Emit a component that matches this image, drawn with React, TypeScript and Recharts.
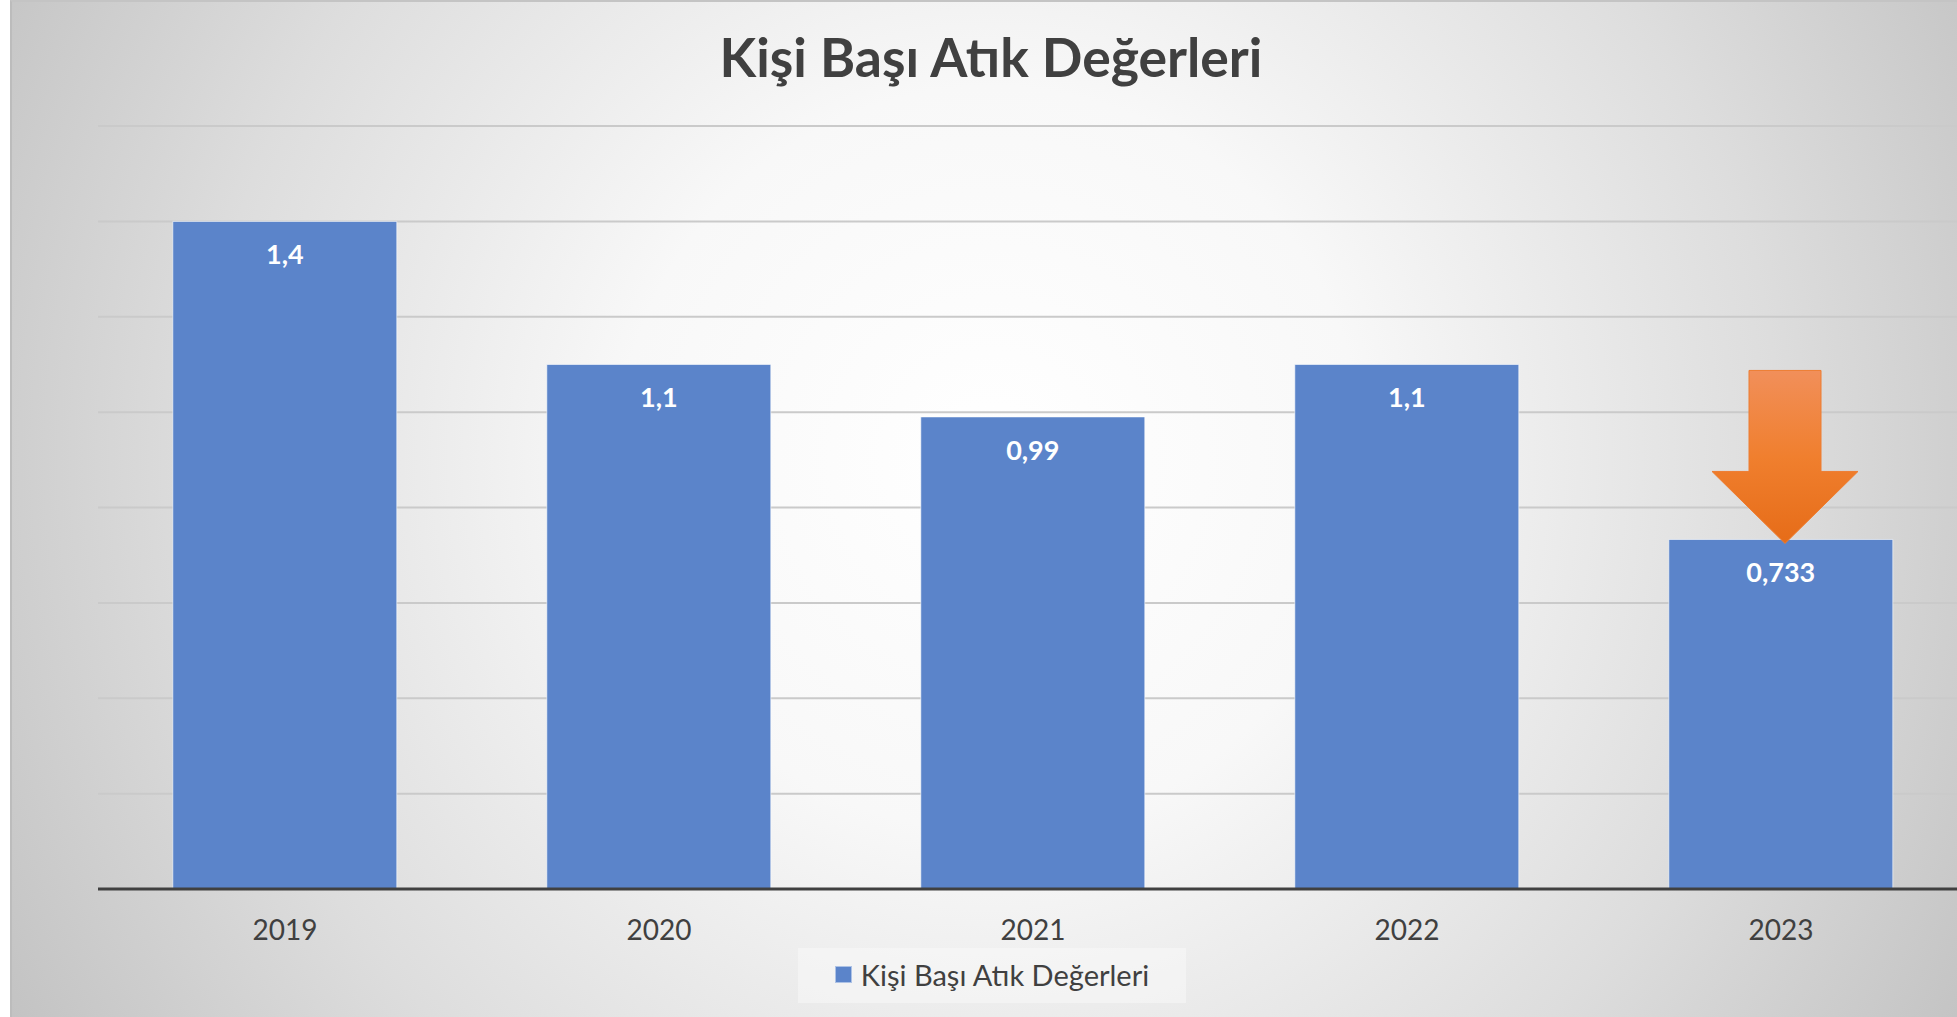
import React from 'react';
import { BarChart, Bar, XAxis, YAxis, CartesianGrid, LabelList, ReferenceDot, Legend } from 'recharts';

const title = 'Kişi Başı Atık Değerleri';
const seriesName = 'Kişi Başı Atık Değerleri';
const categories = ['2019', '2020', '2021', '2022', '2023'];
const values = [1.4, 1.1, 0.99, 1.1, 0.733];
const valueLabels = ['1,4', '1,1', '0,99', '1,1', '0,733'];
const yTicks = [0, 0.2, 0.4, 0.6, 0.8, 1.0, 1.2, 1.4, 1.6];
const highlightIndex = 4;

const data = categories.map((c, i) => ({ year: c, value: values[i], label: valueLabels[i] }));

const FONT = 'Lato, "Open Sans", sans-serif';
const TEXT = '#404040';
const BAR = '#5b84ca';

const renderLabel = (props: any) => {
  const { x, y, width, value } = props;
  return (
    <text x={Number(x) + Number(width) / 2} y={Number(y) + 43} textAnchor="middle" fill="#ffffff"
      fontFamily={FONT} fontWeight={700} fontSize={27}>
      {value}
    </text>
  );
};

const Arrow = (props: any) => {
  const { cx, cy } = props;
  const x = cx + 4;
  const tip = cy + 4;
  const d = `M ${x - 36} ${cy - 169} L ${x + 36} ${cy - 169} L ${x + 36} ${cy - 68} L ${x + 73} ${cy - 68} L ${x} ${tip} L ${x - 73} ${cy - 68} L ${x - 36} ${cy - 68} Z`;
  return (
    <g>
      <defs>
        <linearGradient id="arrowGrad" x1="0" y1="0" x2="0" y2="1">
          <stop offset="0%" stopColor="#f18f5a" />
          <stop offset="50%" stopColor="#f07f2e" />
          <stop offset="100%" stopColor="#e66c18" />
        </linearGradient>
      </defs>
      <path d={d} fill="url(#arrowGrad)" stroke="#ed7d31" strokeWidth={1} />
    </g>
  );
};

const renderLegend = (props: any) => {
  const { payload } = props;
  return (
    <div style={{ display: 'flex', alignItems: 'center', justifyContent: 'center', width: 388, height: 55,
      background: 'rgba(250,250,250,0.5)', boxSizing: 'border-box', paddingBottom: 2 }}>
      {(payload || []).map((p: any, i: number) => (
        <div key={i} style={{ display: 'flex', alignItems: 'center' }}>
          <span style={{ display: 'inline-block', width: 17, height: 17, background: BAR, marginRight: 9,
            boxShadow: 'inset 0 0 0 1px rgba(255,255,255,0.5)' }} />
          <span style={{ fontFamily: FONT, fontSize: 29, color: TEXT, lineHeight: '34px' }}>{p.value}</span>
        </div>
      ))}
    </div>
  );
};

export default function App() {
  return (
    <div style={{ position: 'fixed', left: 0, top: 0, width: 1957, height: 1017, overflow: 'hidden', background: '#ffffff' }}>
      <div style={{
        position: 'absolute', left: 10, top: 0, width: 1960, height: 1017, boxSizing: 'border-box',
        borderTop: '2px solid #c4c4c4', borderLeft: '2px solid #bcbcbc',
        background: 'radial-gradient(circle farthest-corner at 50% 45%, #ffffff 0%, #f8f8f8 33%, #dddddd 70%, #c3c3c3 100%)',
      }}>
        <div style={{ position: 'absolute', left: 0, top: 22, width: 1958, textAlign: 'center', fontFamily: FONT,
          fontWeight: 700, fontSize: 53.5, color: TEXT, lineHeight: '64px' }}>{title}</div>
        <div style={{ position: 'absolute', left: 0, top: 0 }}>
          <BarChart width={1958} height={1015} data={data} margin={{ top: 124, right: 2, bottom: 88, left: 86 }}
            barCategoryGap="20%">
            <CartesianGrid vertical={false} stroke="#cacaca" strokeWidth={2} />
            <YAxis hide domain={[0, 1.6]} ticks={yTicks} />
            <XAxis dataKey="year" height={40} tickLine={false} axisLine={{ stroke: TEXT, strokeWidth: 3 }}
              tick={{ fill: TEXT, fontFamily: FONT, fontSize: 28 }} tickMargin={25} />
            <Legend verticalAlign="middle" align="center" layout="horizontal" content={renderLegend}
              wrapperStyle={{ position: 'absolute', left: 786, top: 946, width: 388, height: 55 }} />
            <Bar dataKey="value" name={seriesName} fill={BAR} stroke="rgba(255,255,255,0.6)" strokeWidth={1}
              isAnimationActive={false}>
              <LabelList dataKey="label" content={renderLabel} />
            </Bar>
            <ReferenceDot x={categories[highlightIndex]} y={values[highlightIndex]} r={0} shape={Arrow}
              ifOverflow="visible" />
          </BarChart>
        </div>
      </div>
    </div>
  );
}
